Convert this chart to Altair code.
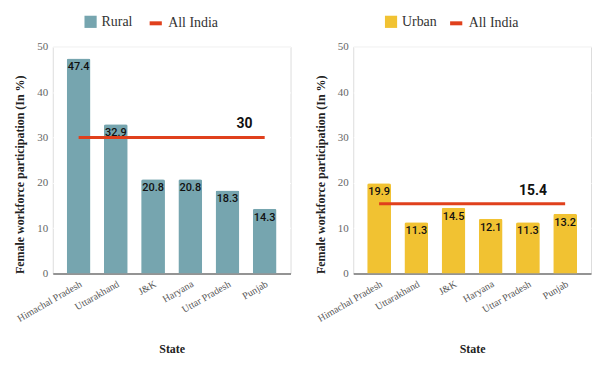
import altair as alt
import pandas as pd

states = ["Himachal Pradesh", "Uttarakhand", "J&K", "Haryana", "Uttar Pradesh", "Punjab"]
rural = [47.4, 32.9, 20.8, 20.8, 18.3, 14.3]
urban = [19.9, 11.3, 14.5, 12.1, 11.3, 13.2]
india_rural = 30
india_urban = 15.4

SERIF = "Liberation Serif"
SANS = "Roboto"
RED = "#e0401c"


def panel(values, india, label, color, label_dx):
    df = pd.DataFrame({"State": states, "value": values, "series": label,
                       "india": india, "line": "All India"})
    x = alt.X("State:N", sort=states, title="State",
              scale=alt.Scale(paddingInner=0.36, paddingOuter=0.375),
              axis=alt.Axis(labelAngle=-30, labelFont=SERIF, labelFontSize=10,
                            labelColor="#555", titleFont=SERIF, titleFontSize=12,
                            titleFontWeight="bold", titleColor="#222", ticks=False,
                            domainColor="#333", domainWidth=1.2, titlePadding=20,
                            labelPadding=5))
    y = alt.Y("value:Q", title="Female workforce participation (In %)",
              scale=alt.Scale(domain=[0, 50]),
              axis=alt.Axis(values=[0, 10, 20, 30, 40, 50], labelFont=SERIF,
                            labelFontSize=11, labelColor="#666", titleFont=SERIF,
                            titleFontSize=12, titleFontWeight="bold",
                            titleColor="#222", ticks=False, domain=False,
                            titleAnchor="start", titlePadding=10,
                            gridColor="white", gridWidth=1, labelPadding=5))
    base = alt.Chart(df)
    bars = base.mark_bar(cornerRadiusTopLeft=2, cornerRadiusTopRight=2).encode(
        x=x, y=y,
        fill=alt.Fill("series:N", scale=alt.Scale(domain=[label], range=[color]),
                      legend=alt.Legend(title=None, orient="none", legendX=31,
                                        legendY=-32, symbolType="square",
                                        symbolSize=150, labelFont=SERIF,
                                        labelFontSize=14, labelColor="#333",
                                        symbolOpacity=1)))
    texts = base.mark_text(baseline="top", dy=3, font=SANS, fontSize=11,
                           fontWeight=500, color="#111").encode(
        x=alt.X("State:N", sort=states), y="value:Q", text=alt.Text("value:Q", format=".1f"))
    line = base.mark_line(strokeWidth=3).encode(
        x=alt.X("State:N", sort=states), y="india:Q",
        stroke=alt.Stroke("line:N", scale=alt.Scale(domain=["All India"], range=[RED]),
                          legend=alt.Legend(title=None, orient="none", legendX=95,
                                            legendY=-32, symbolType="stroke",
                                            symbolStrokeWidth=4, symbolSize=150,
                                            labelFont=SERIF, labelFontSize=14,
                                            labelColor="#333")))
    lab_df = pd.DataFrame({"State": [states[4]], "india": [india],
                           "txt": [str(india)]})
    lab = alt.Chart(lab_df).mark_text(baseline="bottom", dy=-6, dx=label_dx, font=SANS,
                                      fontSize=14, fontWeight="bold", color="#111").encode(
        x=alt.X("State:N", sort=states), y="india:Q", text="txt:N")
    return alt.layer(bars, texts, line, lab).resolve_scale(fill="independent", stroke="independent").properties(width=239, height=228)


left = panel(rural, india_rural, "Rural", "#76a5af", 17)
right = panel(urban, india_urban, "Urban", "#f1c232", 5)

chart = alt.hconcat(left, right, spacing=22).resolve_scale(
    fill="independent", stroke="independent").configure_view(
    fill="#ececec", stroke=None).configure(padding={"left": 5, "right": 0, "top": 5, "bottom": 0})

chart.save("out.html", embed_options={"renderer": "svg", "actions": False})
